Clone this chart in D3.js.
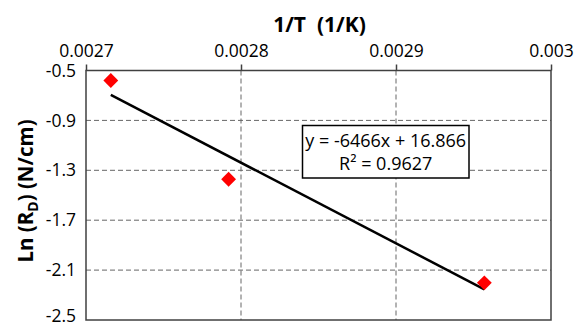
<!DOCTYPE html>
<html>
<head>
<meta charset="utf-8">
<script src="https://cdn.jsdelivr.net/npm/d3@7"></script>
<style>
  body { margin: 0; background: #fff; }
  text { font-family: "Open Sans", sans-serif; fill: #000; }
</style>
</head>
<body>
<script>
// data
var invT = [0.002716, 0.002792, 0.002957];
var lnRD = [-0.58, -1.372, -2.202];
var xTicks = [0.0027, 0.0028, 0.0029, 0.003];
var xTickLabels = ["0.0027", "0.0028", "0.0029", "0.003"];
var yTicks = [-0.5, -0.9, -1.3, -1.7, -2.1, -2.5];
var yTickLabels = ["-0.5", "-0.9", "-1.3", "-1.7", "-2.1", "-2.5"];
var fitSlope = -6466, fitIntercept = 16.866;
var eqLines = ["y = -6466x + 16.866", "R\u00b2 = 0.9627"];

var W = 582, H = 326;
var margin = {top: 70.5, right: 31, bottom: 6, left: 86};
var w = W - margin.left - margin.right;
var h = H - margin.top - margin.bottom;

var svg = d3.select('body').append('svg')
  .attr('width', W)
  .attr('height', H);

var g = svg.append('g')
  .attr('transform', 'translate(' + margin.left + ',' + margin.top + ')');

var x = d3.scaleLinear().domain([0.0027, 0.003]).range([0, w]);
var y = d3.scaleLinear().domain([-2.5, -0.5]).range([h, 0]);

//grid
g.append('g').selectAll('line')
  .data(yTicks.slice(1, -1))
  .enter().append('line')
  .attr('x1', 0).attr('x2', w)
  .attr('y1', d => y(d)).attr('y2', d => y(d))
  .attr('stroke', '#666').attr('stroke-width', 1)
  .attr('stroke-dasharray', '5,3');
g.append('g').selectAll('line')
  .data(xTicks.slice(1, -1))
  .enter().append('line')
  .attr('y1', 0).attr('y2', h)
  .attr('x1', d => x(d)).attr('x2', d => x(d))
  .attr('stroke', '#666').attr('stroke-width', 1)
  .attr('stroke-dasharray', '5,3');

//border
g.append('rect')
  .attr('width', w).attr('height', h)
  .attr('fill', 'none')
  .attr('stroke', '#404040').attr('stroke-width', 1.5);

//top axis
var xAxis = d3.axisTop(x)
  .tickValues(xTicks)
  .tickFormat((d, i) => xTickLabels[i])
  .tickSize(6)
  .tickSizeOuter(0)
  .tickPadding(8);
var xa = g.append('g').call(xAxis);
xa.select('.domain').remove();
xa.selectAll('line').attr('stroke', '#404040').attr('stroke-width', 1.5);
xa.selectAll('text').style('font-size', '17.5px').attr('fill', '#000');

//left axis, labels only
var yAxis = d3.axisLeft(y)
  .tickValues(yTicks)
  .tickFormat((d, i) => yTickLabels[i])
  .tickSize(0)
  .tickPadding(10);
var ya = g.append('g').call(yAxis);
ya.select('.domain').remove();
ya.selectAll('text').style('font-size', '17.5px').attr('fill', '#000');
// keep the last label inside the picture
ya.selectAll('text').filter(d => d === -2.5).attr('dy', '0.1em');

//trend line
var xr = d3.extent(invT);
g.append('line')
  .attr('x1', x(xr[0])).attr('y1', y(fitSlope * xr[0] + fitIntercept))
  .attr('x2', x(xr[1])).attr('y2', y(fitSlope * xr[1] + fitIntercept))
  .attr('stroke', '#000').attr('stroke-width', 2.5);

//points
g.append('g').selectAll('path')
  .data(invT)
  .enter().append('path')
  .attr('d', d3.symbol().type(d3.symbolSquare).size(110))
  .attr('transform', (d, i) => 'translate(' + x(d) + ',' + y(lnRD[i]) + ') rotate(45)')
  .attr('fill', '#ff0000');

//equation box
var eq = svg.append('g');
eq.append('rect')
  .attr('x', 302.5).attr('y', 125.5)
  .attr('width', 166.5).attr('height', 52.5)
  .attr('fill', '#fff')
  .attr('stroke', '#000').attr('stroke-width', 1.5);
eq.selectAll('text.eq')
  .data(eqLines)
  .enter().append('text')
  .attr('class', 'eq')
  .attr('x', 385.7)
  .attr('y', (d, i) => 146.5 + i * 23.5)
  .attr('text-anchor', 'middle')
  .style('font-size', '18px')
  .text(d => d);

//axis titles
svg.append('text')
  .attr('x', 319.5).attr('y', 31.5)
  .attr('text-anchor', 'middle')
  .style('font-size', '21px').style('font-weight', 'bold')
  .style('white-space', 'pre')
  .text('1/T  (1/K)');

var yt = svg.append('text')
  .attr('transform', 'translate(33,191) rotate(-90)')
  .attr('text-anchor', 'middle')
  .style('font-size', '20.5px').style('font-weight', 'bold');
yt.append('tspan').text('Ln (R');
yt.append('tspan').attr('dy', 5).style('font-size', '14px').text('D');
yt.append('tspan').attr('dy', -5).text(') (N/cm)');
</script>
</body>
</html>
